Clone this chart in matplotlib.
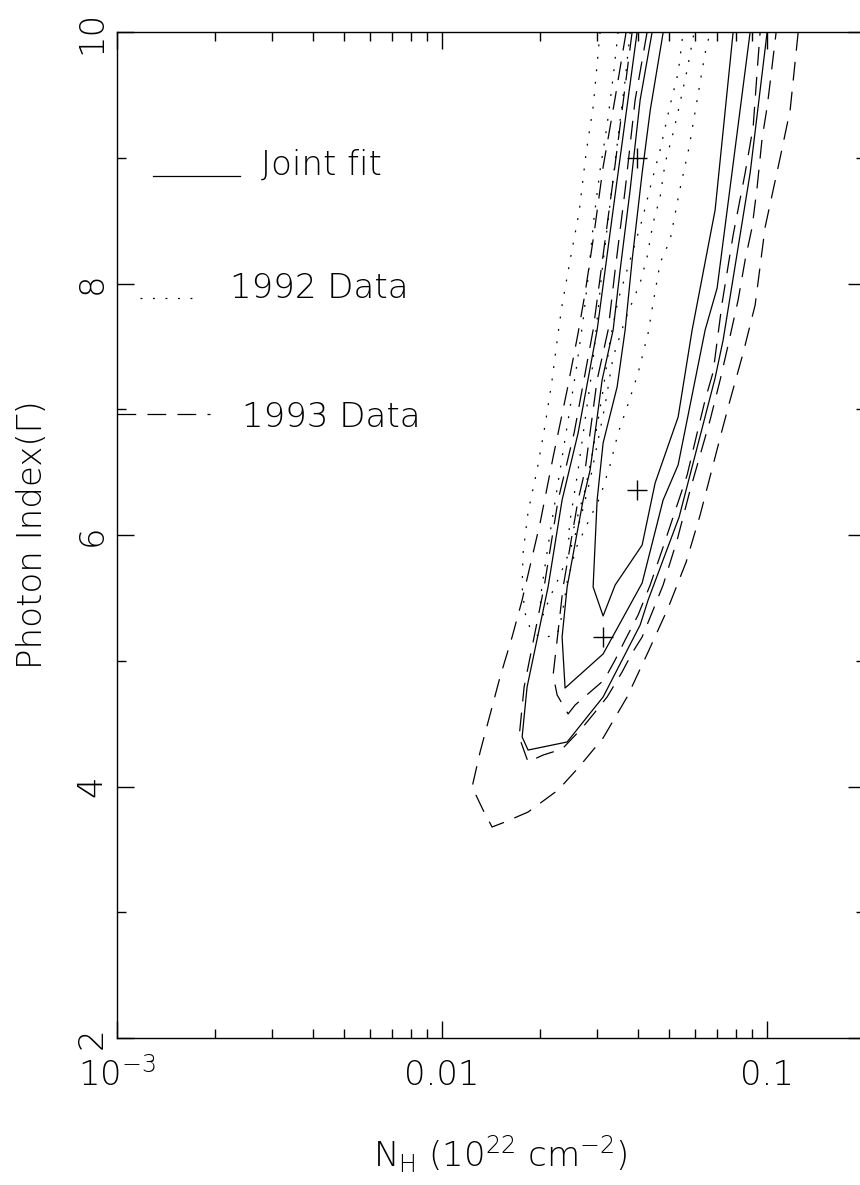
import matplotlib
matplotlib.use("Agg")
import matplotlib.pyplot as plt
from matplotlib.ticker import FixedLocator, NullFormatter

plt.rcParams['font.family'] = ['DejaVu Sans']
plt.rcParams['font.weight'] = 'light'
plt.rcParams['axes.labelweight'] = 'light'
plt.rcParams['mathtext.fontset'] = 'custom'
plt.rcParams['mathtext.rm'] = 'DejaVu Sans:light'
plt.rcParams['mathtext.it'] = 'DejaVu Sans:light'
plt.rcParams['mathtext.sf'] = 'DejaVu Sans:light'
plt.rcParams['mathtext.default'] = 'rm'

# ---------------- data (N_H in 1e22 cm^-2, photon index) ----------------
# Joint fit confidence contours (solid)
joint1_nh = [0.0479, 0.0437, 0.04125, 0.03843, 0.03657, 0.03455, 0.03129, 0.02999, 0.02915,
             0.03129, 0.03407, 0.04125, 0.04523, 0.05323, 0.05878, 0.06918, 0.0786]
joint1_g = [10.0, 9.380, 8.879, 8.187, 7.630, 7.177, 6.732, 6.278, 5.587,
            5.356, 5.602, 5.920, 6.414, 6.938, 7.630, 8.585, 10.0]

joint2_nh = [0.04428, 0.04067, 0.03789, 0.03530, 0.03359, 0.03107, 0.02854, 0.02716, 0.02425,
             0.02340, 0.02390, 0.03129, 0.04125, 0.04786, 0.05323, 0.06445, 0.07017, 0.08865]
joint2_g = [10.0, 9.459, 8.744, 8.107, 7.630, 7.233, 6.517, 6.278, 5.587,
            5.189, 4.783, 5.054, 5.618, 6.278, 6.557, 7.630, 7.964, 10.0]

joint3_nh = [0.03981, 0.03455, 0.02999, 0.02621, 0.02340, 0.02119, 0.01826, 0.01763, 0.01839,
             0.02425, 0.03129, 0.04067, 0.04304, 0.05361, 0.06918, 0.07322, 0.08865, 0.1000]
joint3_g = [10.0, 8.823, 7.630, 6.811, 6.278, 5.587, 4.791, 4.394, 4.290,
            4.354, 4.712, 5.284, 5.483, 6.143, 7.249, 7.551, 8.879, 10.0]

# 1992 data contours (dotted)
d92_1_nh = [0.03789, 0.03657, 0.03530, 0.03383, 0.03242, 0.03107, 0.02999, 0.02894, 0.02754,
            0.02621, 0.02477, 0.02442, 0.02566, 0.02754, 0.02894, 0.03020, 0.03129, 0.03288,
            0.03480, 0.03789, 0.04125, 0.04428, 0.04686, 0.05030, 0.05323, 0.05515]
d92_1_g = [10.0, 9.618, 9.300, 8.903, 8.505, 8.107, 7.710, 7.312, 6.915,
           6.517, 6.119, 5.960, 6.080, 6.358, 6.636, 6.915, 7.153, 7.551,
           7.869, 8.187, 8.505, 8.823, 9.062, 9.419, 9.674, 10.0]

d92_2_nh = [0.03480, 0.03359, 0.03219, 0.03063, 0.02936, 0.02814, 0.02716, 0.02584, 0.02442,
            0.02307, 0.02180, 0.02075, 0.02002, 0.02045, 0.02149, 0.02307, 0.02477, 0.02659,
            0.02854, 0.03020, 0.03174, 0.03359, 0.03657, 0.03870, 0.04067, 0.04273, 0.04459,
            0.04686, 0.04855, 0.05138, 0.05361, 0.05674, 0.05878, 0.05962]
d92_2_g = [10.0, 9.642, 9.260, 8.903, 8.529, 8.052, 7.710, 7.312, 6.915,
           6.517, 6.119, 5.761, 5.483, 5.364, 5.507, 5.682, 5.881, 6.119,
           6.437, 6.755, 7.034, 7.416, 7.710, 7.869, 8.004, 8.211, 8.481,
           8.688, 8.958, 9.197, 9.404, 9.698, 9.913, 10.0]

d92_3_nh = [0.03063, 0.02915, 0.02774, 0.02640, 0.02477, 0.02340, 0.02275, 0.02180, 0.02075,
            0.01960, 0.01839, 0.01775, 0.01763, 0.01800, 0.01865, 0.02002, 0.02259, 0.02340,
            0.02425, 0.02584, 0.02814, 0.03063, 0.03288, 0.03480, 0.03709, 0.04009, 0.04304,
            0.04459, 0.04686, 0.05030, 0.05361, 0.05755, 0.06090, 0.06445, 0.06677]
d92_3_g = [10.0, 9.404, 9.038, 8.569, 8.187, 7.829, 7.606, 7.233, 6.875,
           6.517, 6.183, 5.857, 5.587, 5.380, 5.260, 5.181, 5.205, 5.364,
           5.626, 5.897, 6.103, 6.302, 6.557, 6.811, 7.018, 7.288, 7.606,
           7.845, 8.163, 8.346, 8.720, 9.085, 9.459, 9.833, 10.0]

# 1993 data contours (dashed)
d93_1_nh = [0.04273, 0.03925, 0.03657, 0.03407, 0.03242, 0.02999, 0.02754, 0.02621, 0.02357,
            0.02259, 0.02196, 0.02259, 0.02442, 0.02566, 0.02854, 0.03151, 0.03407, 0.03657,
            0.04009, 0.04366, 0.04753, 0.05138, 0.05674, 0.06090, 0.06445, 0.06821, 0.07270,
            0.0786, 0.08557, 0.09056, 0.09382, 0.09516]
d93_1_g = [10.0, 9.459, 8.744, 8.107, 7.630, 7.233, 6.517, 6.278, 5.587,
           5.165, 4.887, 4.728, 4.577, 4.648, 4.751, 4.847, 5.006, 5.165,
           5.364, 5.602, 5.881, 6.143, 6.477, 6.811, 7.074, 7.296, 7.845,
           8.386, 8.879, 9.245, 9.793, 10.0]

d93_2_nh = [0.03843, 0.03359, 0.02915, 0.02548, 0.02275, 0.02060, 0.01788, 0.01726, 0.01839,
            0.02045, 0.02340, 0.02696, 0.02957, 0.03219, 0.03580, 0.03843, 0.04125, 0.04459,
            0.04786, 0.05286, 0.05796, 0.06221, 0.06677, 0.07168, 0.07586, 0.08142, 0.08557,
            0.08992, 0.09316, 0.09652, 0.1000, 0.1021, 0.1066]
d93_2_g = [10.0, 8.823, 7.630, 6.811, 6.278, 5.587, 4.791, 4.394, 4.195,
           4.250, 4.298, 4.465, 4.592, 4.712, 4.911, 5.062, 5.189, 5.404,
           5.602, 5.960, 6.358, 6.636, 6.915, 7.233, 7.511, 7.869, 8.187,
           8.449, 8.767, 9.157, 9.404, 9.594, 10.0]

d93_3_nh = [0.03683, 0.03407, 0.03129, 0.02936, 0.02754, 0.02621, 0.02425, 0.02196, 0.02002,
            0.01763, 0.01642, 0.01508, 0.01309, 0.01237, 0.01337, 0.01425, 0.01563, 0.01839,
            0.02275, 0.02621, 0.03129, 0.03709, 0.04304, 0.04959, 0.05634, 0.06221, 0.07270,
            0.07694, 0.08437, 0.09185, 0.09859, 0.1096, 0.1177, 0.1246]
d93_3_g = [10.0, 9.475, 8.926, 8.402, 7.924, 7.606, 7.153, 6.620, 6.095,
           5.483, 5.189, 4.871, 4.274, 3.996, 3.813, 3.678, 3.718, 3.797,
           3.972, 4.147, 4.386, 4.712, 5.070, 5.420, 5.785, 6.159, 6.835,
           7.074, 7.447, 7.829, 8.449, 8.998, 9.380, 10.0]

# best-fit positions
best_nh = [0.0398, 0.0398, 0.0313]
best_g = [9.00, 6.36, 5.19]

x_ticks = [1e-3, 1e-2, 1e-1]
x_ticklabels = [r'$10^{-3}$', '0.01', '0.1']
y_ticks = [2, 4, 6, 8, 10]
y_minor = [3, 5, 7, 9]
legend_labels = ['Joint fit', '1992 Data', '1993 Data']

# ---------------- figure ----------------
W, H = 860, 1185
fig = plt.figure(figsize=(W / 100, H / 100), dpi=100)
ax = fig.add_axes([117 / W, 147 / H, 748 / W, 1006 / H])
ax.set_xscale('log')
ax.set_xlim(1e-3, 0.2)
ax.set_ylim(2, 10)

lw = 0.9
solid = '-'
dotted = (0, (1.5, 8.5))
dashed = (0, (15, 9))

for xs, ys in [(joint1_nh, joint1_g), (joint2_nh, joint2_g), (joint3_nh, joint3_g)]:
    ax.plot(xs, ys, color='k', lw=lw, ls=solid)
for xs, ys in [(d92_1_nh, d92_1_g), (d92_2_nh, d92_2_g), (d92_3_nh, d92_3_g)]:
    ax.plot(xs, ys, color='k', lw=lw, ls=dotted)
for xs, ys in [(d93_1_nh, d93_1_g), (d93_2_nh, d93_2_g), (d93_3_nh, d93_3_g)]:
    ax.plot(xs, ys, color='k', lw=lw, ls=dashed)

ax.plot(best_nh, best_g, ls='none', marker='+', ms=15, mew=1.0, color='k')

# ---------------- axes styling ----------------
fs = 24.5
for s in ax.spines.values():
    s.set_linewidth(1.0)

ax.xaxis.set_major_locator(FixedLocator(x_ticks))
ax.set_xticklabels(x_ticklabels)
minor_x = [m * d for d in (1e-3, 1e-2, 1e-1) for m in range(2, 10) if m * d < 0.2]
ax.xaxis.set_minor_locator(FixedLocator(minor_x))
ax.xaxis.set_minor_formatter(NullFormatter())
ax.set_yticks(y_ticks)
ax.set_yticks(y_minor, minor=True)
ax.set_yticklabels([str(v) for v in y_ticks])

ax.tick_params(which='both', direction='in', top=True, right=True, width=1.0)
ax.tick_params(which='major', length=12.2)
ax.tick_params(which='minor', length=6.5)
ax.tick_params(axis='x', which='major', labelsize=fs, pad=34)
ax.tick_params(axis='y', which='major', labelsize=fs, pad=6.0)
for lab in ax.get_xticklabels():
    lab.set_verticalalignment('baseline')
for lab in ax.get_yticklabels():
    lab.set_rotation(90)
    lab.set_verticalalignment('center')

ax.set_xlabel(r'N$_\mathrm{H}$ (10$^{22}$ cm$^{-2}$)', fontsize=fs, va='baseline',
              fontweight='light')
ax.xaxis.set_label_coords(0.512, -0.1282)
ax.set_ylabel('Photon Index(Γ)', fontsize=fs, va='center', fontweight='light')
ax.yaxis.set_label_coords(-0.1136, 0.5)

# ---------------- legend (drawn like the original annotations) ----------------
ax.plot([0.0481, 0.1644], [0.8569, 0.8569], transform=ax.transAxes, color='k', lw=lw, ls=solid)
ax.text(0.1925, 0.8579, legend_labels[0], transform=ax.transAxes, fontsize=fs,
        va='baseline', ha='left')
ax.plot([0.0307, 0.1110], [0.7356, 0.7356], transform=ax.transAxes, color='k', lw=lw, ls=dotted)
ax.text(0.1511, 0.7356, legend_labels[1], transform=ax.transAxes, fontsize=fs,
        va='baseline', ha='left')
ax.plot([0.0, 0.1243], [0.6203, 0.6203], transform=ax.transAxes, color='k', lw=lw, ls=dashed)
ax.text(0.1671, 0.6074, legend_labels[2], transform=ax.transAxes, fontsize=fs,
        va='baseline', ha='left')

fig.savefig('out.png', dpi=100)
